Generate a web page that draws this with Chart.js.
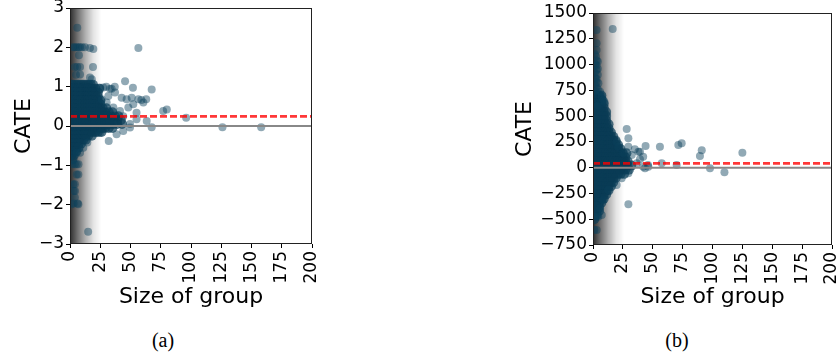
<!DOCTYPE html>
<html>
<head>
<meta charset="utf-8">
<script src="https://cdn.jsdelivr.net/npm/chart.js@4/dist/chart.umd.min.js"></script>
<style>
  body { margin: 0; background: #fff; width: 838px; height: 358px; position: relative; overflow: hidden; }
  canvas { position: absolute; top: 0; }
  #chartA { left: 0; }
  #chartB { left: 500px; }
  .caption { position: absolute; top: 329px; font-family: 'Liberation Serif', serif; font-size: 20px; color: #000; transform: translateX(-50%); }
</style>
</head>
<body>
<canvas id="chartA" width="330" height="320"></canvas>
<canvas id="chartB" width="338" height="320"></canvas>
<div class="caption" style="left:163px">(a)</div>
<div class="caption" style="left:677px">(b)</div>
<script>
// tick labels
const sizeTicks = [0, 25, 50, 75, 100, 125, 150, 175, 200];
const cateTicksA = [-3, -2, -1, 0, 1, 2, 3];
const cateTicksB = [-750, -500, -250, 0, 250, 500, 750, 1000, 1250, 1500];

// mean CATE (red dashed line)
const meanA = 0.245;
const meanB = 42;

// shaded region for small groups ends here
const shadeEnd = 26;

// (a) dense part, rows of [CATE, group sizes]
const blobA = [
  [1.05, [1,3,5,7,9,11,13,15,17,19]],
  [0.95, [1,3,5,7,9,11,13,15,17,19,21,24]],
  [0.85, [1,3,5,7,9,11,13,15,17,19,21,23]],
  [0.75, [1,3,5,7,9,11,13,15,17,19,21,23]],
  [0.65, [1,3,5,7,9,11,13,15,17,19,21,23,25]],
  [0.55, [1,3,5,7,9,11,13,15,17,19,21,23,25]],
  [0.45, [1,3,5,7,9,11,13,15,17,19,21,23,25,27,30]],
  [0.35, [1,3,5,7,9,11,13,15,17,19,21,23,25,27,29,32,35]],
  [0.25, [1,3,5,7,9,11,13,15,17,19,21,23,25,27,29,31,34,37,40]],
  [0.15, [1,3,5,7,9,11,13,15,17,19,21,23,25,27,29,31,33,36,39,42]],
  [0.05, [1,3,5,7,9,11,13,15,17,19,21,23,25,27,29,31,33,36,39,43]],
  [-0.05, [1,3,5,7,9,11,13,15,17,19,21,23,25,27,29,32,35]],
  [-0.15, [1,3,5,7,9,11,13,15,17,19,21,23,26]],
  [-0.25, [1,3,5,7,9,11,13,15,18]],
  [-0.35, [1,3,5,7,9,11,13]],
  [-0.45, [1,3,5,7,9]],
  [-0.55, [1,3,5,7]],
  [-0.65, [1,3,5]],
  [-0.75, [1,3]],
  [-0.85, [2]]
];

// (a) scattered groups [size, CATE]
const looseA = [
  [6,2.5],[2.7,2.0],[4,2.0],[5.5,2.0],[7,2.0],[8.3,2.0],[10,2.0],[12.4,2.0],[16.5,1.98],[19.3,1.96],[56.5,1.98],
  [7.4,1.8],[4,1.5],[6,1.5],[8.3,1.5],[19,1.5],[8.3,1.31],[5,1.3],[16.5,1.23],[18,1.19],
  [45.5,1.14],[25,0.97],[27.5,0.98],[30,1.0],[33,0.95],[34.4,0.95],[37,1.0],[52,0.97],[67.5,0.93],
  [37.2,0.85],[31.7,0.76],[42.7,0.72],[26.2,0.68],[46.8,0.68],[51,0.72],[56.5,0.68],[59,0.66],[63,0.68],
  [30.3,0.6],[60.6,0.6],[52.3,0.55],[35.8,0.47],[48.2,0.47],[41.3,0.38],[55,0.34],[77,0.38],[80,0.42],
  [44,0.25],[96,0.21],[55,0.17],[63.4,0.13],[49.6,0.05],
  [67.5,-0.03],[126,-0.03],[158,-0.03],[49.6,-0.04],[44,-0.13],[38.5,-0.21],[25,-0.17],[32,-0.38],
  [14.3,-0.42],[11,-0.55],[8.3,-0.68],[5.5,-0.68],
  [2,-0.97],[4,-0.97],[5.5,-0.97],[7,-0.97],[5.5,-1.23],[6.9,-1.23],[2.7,-1.48],[4,-1.48],[4.1,-1.65],[3,-1.65],
  [4,-1.82],[1.4,-1.99],[3,-1.97],[6.3,-1.97],[6.9,-1.99],[15,-2.69]
];

// (b) dense part, rows of [CATE, group sizes]
const blobB = [
  [700, [1,3,5,7]],
  [660, [1,3,5,7]],
  [620, [1,3,5,7,9]],
  [580, [1,3,5,7,9]],
  [540, [1,3,5,7,9,11]],
  [500, [1,3,5,7,9,11]],
  [460, [1,3,5,7,9,11]],
  [420, [1,3,5,7,9,11,13]],
  [380, [1,3,5,7,9,11,13]],
  [340, [1,3,5,7,9,11,13,15]],
  [300, [1,3,5,7,9,11,13,15,17]],
  [260, [1,3,5,7,9,11,13,15,17,19]],
  [220, [1,3,5,7,9,11,13,15,17,19,21]],
  [180, [1,3,5,7,9,11,13,15,17,19,21,23]],
  [140, [1,3,5,7,9,11,13,15,17,19,21,23,25,28]],
  [100, [1,3,5,7,9,11,13,15,17,19,21,23,25,27]],
  [60, [1,3,5,7,9,11,13,15,17,19,21,23,25,27,29]],
  [20, [1,3,5,7,9,11,13,15,17,19,21,23,25,27,29,32]],
  [-20, [1,3,5,7,9,11,13,15,17,19,21,23,25,27,30]],
  [-60, [1,3,5,7,9,11,13,15,17,19,21,23,26]],
  [-100, [1,3,5,7,9,11,13,15,17,19]],
  [-140, [1,3,5,7,9,11,13,15,17]],
  [-180, [1,3,5,7,9,11,13,15]],
  [-220, [1,3,5,7,9,11,13]],
  [-260, [1,3,5,7,9,11]],
  [-300, [1,3,5,7,9]],
  [-340, [1,3,5,7]],
  [-380, [1,3,5]],
  [-420, [1,3,5]],
  [-460, [1,3]],
  [-500, [1]]
];

// (b) scattered groups [size, CATE]
const looseB = [
  [3,1335],[16.5,1345],[3,1206],[3,1141],[2.5,1077],[1.5,1100],[3,1040],[4,1030],[2,1000],[3,990],[4,960],[3,947],
  [1.5,920],[4,900],[2,870],[3,860],[3,830],[4.5,818],[1.5,800],[3,780],[4,760],[2,740],
  [5.9,737],[7.3,689],[8.6,656],[9.5,640],[4,600],
  [28.2,375],[29.6,285],[19.8,252],[21.2,204],[29.6,204],[25.4,140],[35,178],[39.3,155],[44,210],[56,204],
  [71.4,220],[74.2,236],[91,168],[89.5,113],[125,145],[32.4,123],[38,155],[39.3,81],[42,107],[36.6,42],
  [57.5,42],[46.3,10],[42,10],[46,26],[70,26],[97.9,-6],[43.5,-6],[110,-45],[29.6,-55],[24,-103],
  [19.8,-168],[12.8,-216],[29.6,-355],[8.6,-313],[5.9,-394],[4.4,-475],[7.3,-459],[1.7,-475],[1.1,-605],[3.1,-604]
];

function rowsToPoints(rows) {
  const pts = [];
  rows.forEach(r => r[1].forEach(x => pts.push({x: x, y: r[0]})));
  return pts;
}

function pairsToPoints(pairs) {
  return pairs.map(p => ({x: p[0], y: p[1]}));
}

// grey fade behind small groups + box around plot
const shade = {
  id: 'shade',
  beforeDatasetsDraw(chart) {
    const {ctx, chartArea: a, scales: {x}} = chart;
    const x1 = x.getPixelForValue(shadeEnd);
    const g = ctx.createLinearGradient(a.left, 0, x1, 0);
    g.addColorStop(0, 'rgba(0,0,0,0.82)');
    g.addColorStop(0.25, 'rgba(0,0,0,0.55)');
    g.addColorStop(0.5, 'rgba(0,0,0,0.3)');
    g.addColorStop(0.75, 'rgba(0,0,0,0.1)');
    g.addColorStop(1, 'rgba(0,0,0,0)');
    ctx.save();
    ctx.fillStyle = g;
    ctx.fillRect(a.left, a.top, x1 - a.left, a.bottom - a.top);
    ctx.restore();
  },
  afterDraw(chart) {
    const {ctx, chartArea: a} = chart;
    ctx.save();
    ctx.strokeStyle = '#222';
    ctx.lineWidth = 1;
    ctx.strokeRect(a.left + 0.5, a.top + 0.5, a.right - a.left - 1, a.bottom - a.top - 1);
    ctx.restore();
  }
};

function makeChart(id, blob, loose, mean, yTicks, pad, yWidth, xHeight) {
  const tickFont = {family: 'DejaVu Sans', size: 17};
  const titleFont = {family: 'DejaVu Sans', size: 22};
  return new Chart(document.getElementById(id), {
    type: 'scatter',
    data: {
      datasets: [{
        type: 'line',
        data: [{x: sizeTicks[0], y: mean}, {x: sizeTicks[sizeTicks.length - 1], y: mean}],
        borderColor: 'rgba(255,0,0,0.78)',
        borderWidth: 2.6,
        borderDash: [7, 3],
        pointRadius: 0
      }, {
        type: 'line',
        data: [{x: sizeTicks[0], y: 0}, {x: sizeTicks[sizeTicks.length - 1], y: 0}],
        borderColor: '#888',
        borderWidth: 2,
        pointRadius: 0
      }, {
        data: pairsToPoints(loose),
        backgroundColor: 'rgba(12,65,92,0.45)',
        borderWidth: 0,
        pointRadius: 4,
        pointHoverRadius: 4
      }, {
        data: rowsToPoints(blob),
        backgroundColor: 'rgba(10,60,86,0.7)',
        borderWidth: 0,
        pointRadius: 5,
        pointHoverRadius: 5
      }]
    },
    options: {
      responsive: false,
      animation: false,
      layout: {padding: pad},
      plugins: {legend: {display: false}, tooltip: {enabled: false}},
      scales: {
        x: {
          type: 'linear',
          min: sizeTicks[0],
          max: sizeTicks[sizeTicks.length - 1],
          ticks: {stepSize: 25, minRotation: 90, maxRotation: 90, color: '#000', font: tickFont, padding: 3},
          grid: {display: true, drawOnChartArea: false, tickLength: 4, color: '#000'},
          border: {display: false},
          title: {display: true, text: 'Size of group', color: '#000', font: titleFont, padding: 0},
          afterFit: s => { s.height = xHeight; s.paddingLeft = 0; s.paddingRight = 0; }
        },
        y: {
          min: yTicks[0],
          max: yTicks[yTicks.length - 1],
          ticks: {
            stepSize: yTicks[1] - yTicks[0],
            color: '#000',
            font: tickFont,
            padding: 2,
            callback: v => String(v).replace('-', '\u2212')
          },
          grid: {display: true, drawOnChartArea: false, tickLength: 4, color: '#000'},
          border: {display: false},
          title: {display: true, text: 'CATE', color: '#000', font: titleFont, padding: 0},
          afterFit: s => { s.width = yWidth; s.paddingTop = 0; s.paddingBottom = 0; }
        }
      }
    },
    plugins: [shade]
  });
}

makeChart('chartA', blobA, looseA, meanA, cateTicksA, {left: 11, right: 18, top: 8, bottom: 10}, 59, 66);
makeChart('chartB', blobB, looseB, meanB, cateTicksB, {left: 12, right: 6, top: 13, bottom: 10}, 81, 65);
</script>
</body>
</html>
